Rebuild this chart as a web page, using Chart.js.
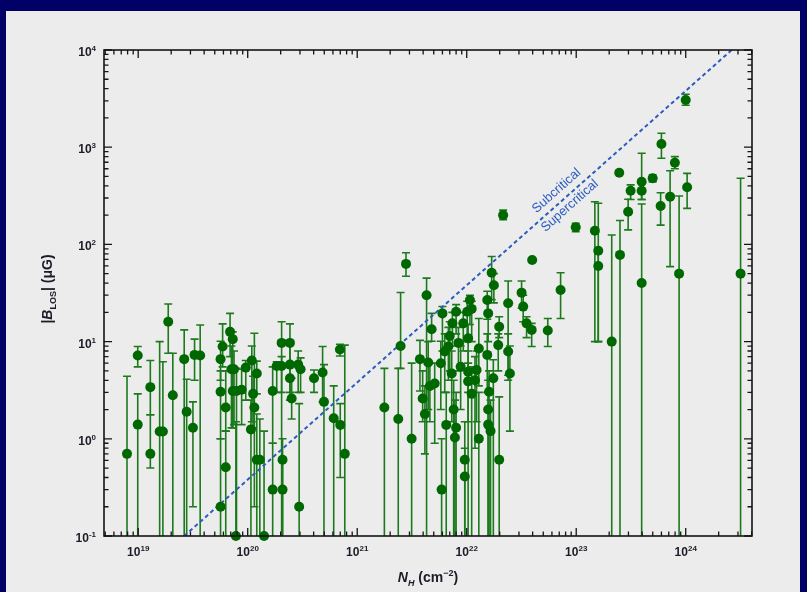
<!DOCTYPE html>
<html>
<head>
<meta charset="utf-8">
<script src="https://cdn.jsdelivr.net/npm/chart.js@4.4.1/dist/chart.umd.min.js"></script>
<style>
    html, body { margin: 0; padding: 0; width: 807px; height: 592px; overflow: hidden; background: #000066; }
    #panel { position: absolute; left: 6px; top: 11px; width: 794px; height: 581px; background: #ececec; }
    #wrap { position: absolute; left: 0; top: 0; width: 807px; height: 592px; }
</style>
</head>
<body>
<div id="panel"></div>
<div id="wrap"><canvas id="chart" width="807" height="592"></canvas></div>
<script>
// Column density N_H (cm^-2), |B_LOS| (uG) and the low / high end of each error bar.
// A low end of 0.05 means the bar runs off the bottom of the plot; null = no bar.
const nH = [
    7.9e18, 9.9e18, 9.9e18, 1.29e19, 1.29e19, 1.57e19, 1.68e19, 1.88e19, 2.07e19, 2.63e19,
    2.77e19, 3.16e19, 3.27e19, 3.68e19, 5.65e19, 5.65e19, 5.65e19, 5.9e19, 6.3e19, 6.3e19,
    6.9e19, 7.3e19, 7.1e19, 7.5e19, 7.3e19, 7.9e19, 7.8e19, 8.8e19, 9.6e19, 1.09e20,
    1.21e20, 1.15e20, 1.07e20, 1.21e20, 1.29e20, 1.41e20, 1.12e20, 1.69e20, 1.69e20, 1.84e20,
    2.04e20, 2.04e20, 2.08e20, 2.08e20, 2.43e20, 2.43e20, 2.43e20, 2.52e20, 2.89e20, 3.04e20,
    2.95e20, 4.03e20, 4.83e20, 4.97e20, 6.1e20, 6.95e20, 7.0e20, 7.7e20, 1.77e21, 2.37e21,
    2.49e21, 2.79e21, 3.14e21, 3.74e21, 3.96e21, 4.15e21, 4.30e21, 4.45e21, 4.61e21, 4.78e21,
    5.1e21, 5.8e21, 5.9e21, 6.0e21, 6.3e21, 6.5e21, 6.8e21, 7.0e21, 7.3e21, 7.4e21,
    7.6e21, 7.8e21, 8.0e21, 8.0e21, 8.4e21, 8.8e21, 9.3e21, 9.6e21, 9.6e21, 1.01e22,
    1.03e22, 1.07e22, 1.11e22, 1.11e22, 1.03e22, 1.03e22, 1.19e22, 1.23e22, 1.29e22, 1.29e22,
    1.54e22, 1.57e22, 1.54e22, 1.60e22, 1.57e22, 1.57e22, 1.65e22, 1.69e22, 1.75e22, 1.77e22,
    1.94e22, 1.98e22, 1.98e22, 2.15e22, 2.39e22, 2.39e22, 2.48e22, 3.17e22, 3.28e22, 3.52e22,
    3.92e22, 3.96e22, 5.5e22, 7.2e22, 9.9e22, 1.48e23, 1.59e23, 1.59e23, 2.11e23, 2.47e23,
    2.51e23, 2.98e23, 3.14e23, 3.96e23, 3.96e23, 3.96e23, 4.99e23, 5.9e23, 6.0e23, 7.2e23,
    7.96e23, 8.7e23, 1.0e24, 1.03e24, 3.17e24
];
const bLos = [
    0.70, 7.2, 1.4, 3.4, 0.70, 1.19, 1.19, 16, 2.8, 6.6,
    1.9, 1.3, 7.3, 7.2, 6.6, 3.05, 0.20, 8.9, 2.1, 0.51,
    12.6, 10.6, 5.2, 5.2, 3.1, 3.1, 0.10, 3.2, 5.4, 6.4,
    4.7, 2.1, 1.25, 0.61, 0.61, 0.10, 2.9, 3.1, 0.30, 5.6,
    9.7, 5.6, 0.61, 0.30, 9.7, 5.8, 4.2, 2.6, 5.8, 5.2,
    0.20, 4.2, 4.8, 2.4, 1.63, 8.3, 1.39, 0.70, 2.1, 1.6,
    9.0, 63, 1.0, 6.6, 2.6, 1.8, 30, 6.1, 3.5, 13.4,
    3.7, 6.0, 0.30, 19.5, 7.9, 1.39, 8.9, 11.4, 4.7, 15.4,
    2.0, 1.03, 1.3, 20.3, 9.7, 5.5, 15.4, 0.61, 0.41, 20.3,
    10.8, 26.8, 21.7, 2.9, 4.9, 3.9, 4.0, 5.1, 8.5, 1.0,
    26.8, 19.5, 7.3, 3.05, 2.0, 1.4, 1.2, 51, 4.2, 38,
    9.2, 14.2, 0.61, 200, 24.8, 7.9, 4.7, 31.9, 22.9, 15.4,
    13.2, 69, 13.0, 34, 150, 138, 86, 60, 10.0, 547,
    78, 217, 357, 442, 357, 40, 479, 248, 1080, 310,
    693, 50, 3060, 387, 50
];
const bLow = [
    0.05, 5.5, 0.05, 1.77, 0.50, 0.05, 0.05, 7.6, 0.05, 0.05,
    0.05, 0.20, 4.0, 0.05, 4.0, 1.0, 0.05, 5.5, 1.2, 0.05,
    7.0, 1.3, 1.3, 1.4, 1.3, 0.05, 0.05, 1.4, 2.5, 1.5,
    2.9, 0.20, 0.05, 0.05, 0.05, 0.05, 1.3, 0.90, 0.05, 3.0,
    3.0, 0.05, 0.05, 0.05, 6.0, 3.0, 2.5, 1.6, 3.0, 3.0,
    0.05, 3.0, 2.4, 0.05, 0.05, 7.1, 0.40, 0.05, 0.05, 0.05,
    5.3, 47, 0.05, 3.1, 1.5, 0.7, 0.05, 2.0, 1.5, 10.1,
    0.9, 2.0, 0.05, 8.0, 3.0, 0.05, 4.0, 5.0, 1.5, 9.0,
    0.05, 0.05, 0.05, 12, 5.0, 2.0, 8.0, 0.05, 0.05, 10,
    3.0, 15, 10, 0.05, 1.5, 0.05, 0.8, 1.5, 3.5, 0.05,
    17, 10, 3.0, 0.05, 0.05, 0.05, 0.05, 27, 0.05, 25,
    5.0, 11, 0.05, 180, 4.0, 4.5, 1.2, 22, 16, 11,
    8.9, null, 8.9, 17.3, 135, 10, 10, 10, 0.05, null,
    0.05, 141, 290, 290, 290, 0.05, 440, 158, 769, 59,
    600, 0.05, 2700, 235, 0.05
];
const bHigh = [
    4.4, 8.9, 2.9, 6.4, 1.77, 10, 6.2, 24.4, 7.6, 13.2,
    4.1, 2.4, 10.6, 14.8, 10.1, 5.0, 1.0, 15.2, 5.0, 1.2,
    19.5, 12.6, 9.0, 8.0, 5.0, 5.3, 1.5, 5.2, 6.4, 9.0,
    6.3, 12.2, 2.5, 1.8, 1.6, 1.2, 4.4, 5.5, 0.90, 6.2,
    16, 7.0, 1.0, 0.6, 15.2, 9.7, 6.0, 4.2, 8.0, 6.8,
    2.3, 5.1, 8.9, 5.8, 3.5, 9.4, 2.3, 9.2, 5.3, 5.3,
    32, 82, 6.0, 10.3, 5.0, 3.5, 45, 10, 6.0, 19.5,
    6.0, 10.1, 1.0, 23, 12, 3.0, 14, 16, 8.0, 20,
    4.0, 2.5, 3.0, 24, 14, 9.0, 20, 1.5, 0.8, 26,
    15, 30, 26, 5.5, 8.0, 6.0, 7.0, 8.0, 17.3, 3.0,
    33, 26, 12, 5.0, 4.0, 3.0, 2.5, 75, 6.5, 50,
    12, 18, 2.7, 225, 42, 12, 9.0, 42, 30, 18,
    15.4, null, 17.3, 51, 165, 275, 265, 86, 125, null,
    176, 291, 410, 865, 442, 260, 520, 340, 1390, 573,
    800, 315, 3500, 538, 480
];

// Critical line B = 3.8e-21 N_H, given by its two ends
const critN = [2.63e19, 2.63e24];
const critB = [0.1, 1e4];
const regionText = ['Subcritical', 'Supercritical'];
const regionAt = 7.7e22;

// Axis ranges and the decades that get a labelled tick
const xRange = [4.87e18, 4.03e24];
const yRange = [0.1, 1e4];
const xExp = [19, 20, 21, 22, 23, 24];
const yExp = [-1, 0, 1, 2, 3, 4];

const FONT = '"Liberation Sans", Arial, sans-serif';
const GREEN = '#006800';
const BAR_GREEN = '#1c7a1c';
const LINE_BLUE = '#2b5cc0';

// draws a row of text pieces (normal / sub / superscript) starting from a reference point
function drawRuns(ctx, runs, x, y, align) {
    let total = 0;
    runs.forEach(r => { ctx.font = r.font; r.w = ctx.measureText(r.text).width; total += r.w; });
    let cx = align === 'right' ? x - total : (align === 'center' ? x - total / 2 : x);
    runs.forEach(r => {
        ctx.font = r.font;
        ctx.fillText(r.text, cx, y + (r.dy || 0));
        cx += r.w;
    });
}

function powRuns(exp) {
    return [
        { text: '10', font: `bold 12px ${FONT}` },
        { text: String(exp), font: `bold 8px ${FONT}`, dy: -5 }
    ];
}

// vertical error bars with caps, under the points
const errorBars = {
    id: 'errorBars',
    beforeDatasetsDraw(chart) {
        const { ctx, chartArea: a, scales: { x, y } } = chart;
        ctx.save();
        ctx.beginPath();
        ctx.rect(a.left, a.top, a.right - a.left, a.bottom - a.top);
        ctx.clip();
        ctx.strokeStyle = BAR_GREEN;
        ctx.lineWidth = 1.6;
        nH.forEach((n, i) => {
            if (bLow[i] == null) return;
            const px = x.getPixelForValue(n);
            const top = y.getPixelForValue(bHigh[i]);
            const bot = y.getPixelForValue(bLow[i]);
            ctx.beginPath();
            ctx.moveTo(px, top); ctx.lineTo(px, bot);
            ctx.moveTo(px - 4, top); ctx.lineTo(px + 4, top);
            ctx.moveTo(px - 4, bot); ctx.lineTo(px + 4, bot);
            ctx.stroke();
        });
        ctx.restore();
    }
};

// frame with inward ticks, tick labels, axis titles and the line labels
const frameAxes = {
    id: 'frameAxes',
    afterDraw(chart) {
        const { ctx, chartArea: a, scales: { x, y } } = chart;
        ctx.save();
        ctx.strokeStyle = '#151515';
        ctx.lineWidth = 1.6;
        ctx.strokeRect(a.left, a.top, a.right - a.left, a.bottom - a.top);

        ctx.lineWidth = 1.3;
        ctx.beginPath();
        for (let e = 18; e <= 24; e++) {
            for (let m = 1; m <= 9; m++) {
                const v = m * Math.pow(10, e);
                if (v < xRange[0] || v > xRange[1]) continue;
                const px = x.getPixelForValue(v);
                const len = m === 1 ? 8 : 4.5;
                ctx.moveTo(px, a.bottom); ctx.lineTo(px, a.bottom - len);
                ctx.moveTo(px, a.top); ctx.lineTo(px, a.top + len);
            }
        }
        for (let e = -1; e <= 4; e++) {
            for (let m = 1; m <= 9; m++) {
                const v = m * Math.pow(10, e);
                if (v < yRange[0] || v > yRange[1] * 1.0001) continue;
                const py = y.getPixelForValue(v);
                const len = m === 1 ? 8 : 4.5;
                ctx.moveTo(a.left, py); ctx.lineTo(a.left + len, py);
                ctx.moveTo(a.right, py); ctx.lineTo(a.right - len, py);
            }
        }
        ctx.stroke();

        ctx.fillStyle = '#1c1c28';
        ctx.textBaseline = 'alphabetic';
        xExp.forEach(e => {
            drawRuns(ctx, powRuns(e), x.getPixelForValue(Math.pow(10, e)), a.bottom + 20, 'center');
        });
        yExp.forEach(e => {
            drawRuns(ctx, powRuns(e), a.left - 8, y.getPixelForValue(Math.pow(10, e)) + 6, 'right');
        });

        // axis titles
        drawRuns(ctx, [
            { text: 'N', font: `italic bold 14px ${FONT}` },
            { text: 'H', font: `italic bold 9px ${FONT}`, dy: 4 },
            { text: ' (cm', font: `bold 14px ${FONT}` },
            { text: '\u22122', font: `bold 9px ${FONT}`, dy: -6 },
            { text: ')', font: `bold 14px ${FONT}` }
        ], (a.left + a.right) / 2, 582, 'center');

        ctx.save();
        ctx.translate(52, (a.top + a.bottom) / 2 - 4);
        ctx.rotate(-Math.PI / 2);
        drawRuns(ctx, [
            { text: '|', font: `bold 14px ${FONT}` },
            { text: 'B', font: `italic bold 14px ${FONT}` },
            { text: 'LOS', font: `bold 9px ${FONT}`, dy: 4 },
            { text: '| (\u03bcG)', font: `bold 14px ${FONT}` }
        ], 0, 0, 'center');
        ctx.restore();

        // labels either side of the critical line
        const x0 = x.getPixelForValue(critN[0]), y0 = y.getPixelForValue(critB[0]);
        const x1 = x.getPixelForValue(critN[1]), y1 = y.getPixelForValue(critB[1]);
        const ang = Math.atan2(y1 - y0, x1 - x0);
        const ax = x.getPixelForValue(regionAt);
        const ay = y0 + (ax - x0) * (y1 - y0) / (x1 - x0);
        ctx.fillStyle = LINE_BLUE;
        ctx.font = `13px ${FONT}`;
        ctx.textAlign = 'center';
        ctx.textBaseline = 'middle';
        [[regionText[0], -11], [regionText[1], 9]].forEach(([t, off]) => {
            ctx.save();
            ctx.translate(ax, ay);
            ctx.rotate(ang);
            ctx.fillText(t, 0, off);
            ctx.restore();
        });
        ctx.restore();
    }
};

const points = nH.map((n, i) => ({ x: n, y: bLos[i] }));
const critLine = critN.map((n, i) => ({ x: n, y: critB[i] }));

new Chart(document.getElementById('chart').getContext('2d'), {
    type: 'scatter',
    data: {
        datasets: [
            {
                type: 'line',
                data: critLine,
                borderColor: LINE_BLUE,
                borderWidth: 2,
                borderDash: [4, 3],
                pointRadius: 0,
                fill: false,
                order: 1
            },
            {
                data: points,
                backgroundColor: GREEN,
                borderColor: GREEN,
                borderWidth: 0,
                pointRadius: 5,
                clip: false,
                order: 0
            }
        ]
    },
    options: {
        responsive: false,
        animation: false,
        layout: { padding: { left: 104, top: 50, right: 55, bottom: 56 } },
        scales: {
            x: { type: 'logarithmic', min: xRange[0], max: xRange[1], display: false },
            y: { type: 'logarithmic', min: yRange[0], max: yRange[1], display: false }
        },
        plugins: {
            legend: { display: false },
            tooltip: { enabled: false }
        }
    },
    plugins: [errorBars, frameAxes]
});
</script>
</body>
</html>
